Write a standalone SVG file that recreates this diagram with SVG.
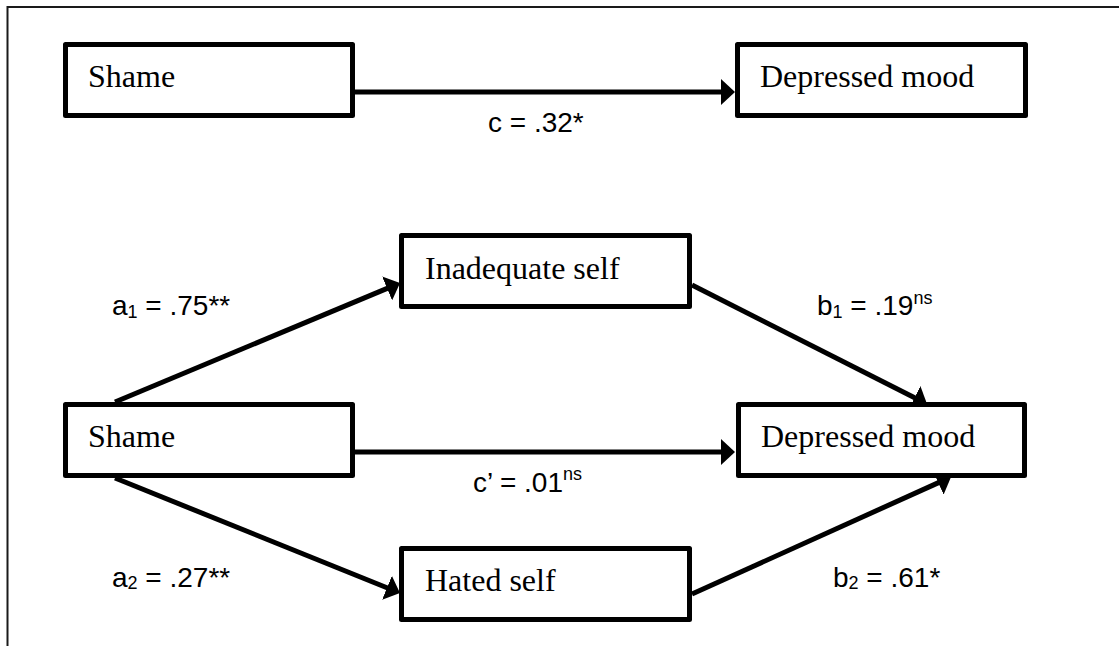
<svg xmlns="http://www.w3.org/2000/svg" width="1119" height="646" viewBox="0 0 1119 646">
<style>
.box{fill:#fff;stroke:#000;stroke-width:5;stroke-linejoin:round}
.nt{font-family:"Liberation Serif","Times New Roman",serif;font-size:32px;fill:#000}
.lbl{font-family:"Liberation Sans",Arial,sans-serif;font-size:28px;fill:#000}
.sm{font-size:18px}
.conn{stroke:#000;stroke-width:5;fill:none;marker-end:url(#ah)}
.frame{stroke:#1a1a1a;stroke-width:2;fill:none}
</style>
<defs>
<marker id="ah" viewBox="0 0 14 26" refX="4" refY="13" markerWidth="14" markerHeight="26" markerUnits="userSpaceOnUse" orient="auto">
<path d="M0,0 L14,13 L0,26 Z" fill="#000"/>
</marker>
</defs>
<rect width="1119" height="646" fill="#fff"/>
<path class="frame" d="M7.5,646 L7.5,7 L1119,7"/>
<g id="connectors">
<line class="conn" x1="355" y1="92" x2="725" y2="92"/>
<line class="conn" x1="355" y1="452" x2="725" y2="452"/>
<line class="conn" x1="115" y1="402" x2="390.8" y2="286.9"/>
<line class="conn" x1="115" y1="478" x2="390.7" y2="589.3"/>
<line class="conn" x1="692" y1="285" x2="918.1" y2="399.5"/>
<line class="conn" x1="692" y1="594" x2="941.9" y2="481.1"/>
</g>
<g id="shame-top">
<rect class="box" x="65.5" y="44.5" width="287" height="71"/>
<text class="nt" x="88" y="87">Shame</text>
</g>
<g id="depressed-top">
<rect class="box" x="737.5" y="44.5" width="288" height="71"/>
<text class="nt" x="760" y="87">Depressed mood</text>
</g>
<g id="inadequate-self">
<rect class="box" x="401.5" y="235.5" width="288" height="71"/>
<text class="nt" x="425" y="279">Inadequate self</text>
</g>
<g id="shame-bottom">
<rect class="box" x="65.5" y="404.5" width="287" height="71"/>
<text class="nt" x="88" y="447">Shame</text>
</g>
<g id="depressed-bottom">
<rect class="box" x="738.5" y="404.5" width="286" height="71"/>
<text class="nt" x="761" y="447">Depressed mood</text>
</g>
<g id="hated-self">
<rect class="box" x="401.5" y="548.5" width="288" height="71"/>
<text class="nt" x="425" y="591">Hated self</text>
</g>
<g id="labels">
<text class="lbl" x="488" y="132">c = .32*</text>
<text class="lbl" x="473" y="492">c’ = .01<tspan class="sm" dy="-12">ns</tspan></text>
<text class="lbl" x="112" y="315">a<tspan class="sm" dy="3">1</tspan><tspan dy="-3"> = .75**</tspan></text>
<text class="lbl" x="112" y="587">a<tspan class="sm" dy="2">2</tspan><tspan dy="-2"> = .27**</tspan></text>
<text class="lbl" x="817" y="315">b<tspan class="sm" dy="3">1</tspan><tspan dy="-3"> = .19</tspan><tspan class="sm" dy="-11">ns</tspan></text>
<text class="lbl" x="833" y="587">b<tspan class="sm" dy="2">2</tspan><tspan dy="-2"> = .61*</tspan></text>
</g>
</svg>
